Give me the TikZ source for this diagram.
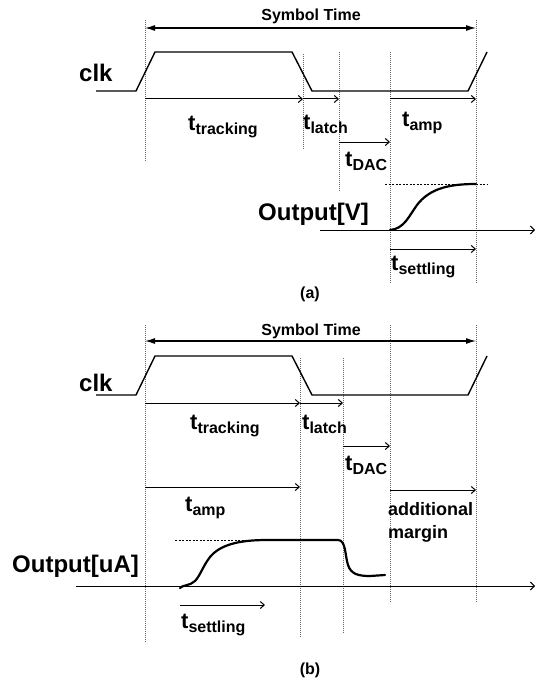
\documentclass[tikz,border=0pt]{standalone}
\usepackage{fontspec}
\setmainfont{Liberation Sans}
\usetikzlibrary{arrows.meta}
\newcommand{\mytsub}[1]{{\fontsize{22}{22}\selectfont t}{\fontsize{16}{16}\selectfont\raisebox{-4pt}{#1}}}
\tikzset{
  guide/.style={draw=black!60, line width=0.7pt, dash pattern=on 1pt off 1pt},
  clkline/.style={line width=1.4pt, line join=round},
  tarrow/.style={line width=1pt, -{Straight Barb[length=4pt,width=7pt]}},
  symarrow/.style={line width=1.1pt, {Latex[length=10pt,width=6pt]}-{Latex[length=10pt,width=6pt]}},
  outcurve/.style={line width=2.2pt, line cap=round},
  axis/.style={line width=1pt, -{Straight Barb[length=4pt,width=8pt]}},
  lbl/.style={inner sep=0pt, anchor=base west, font=\bfseries},
  big/.style={lbl, font=\bfseries\fontsize{24}{24}\selectfont},
  hlevel/.style={line width=0.8pt, dash pattern=on 2pt off 1.5pt},
}
\begin{document}
\begin{tikzpicture}[x=1pt,y=-1pt]
\useasboundingbox (0,0) rectangle (535,682);
% ================= panel (a) =================
\coordinate (a0) at (145,28); \coordinate (a5) at (476,28);
\draw[guide] (145,20) -- (145,162);
\draw[guide] (303,54) -- (303,149);
\draw[guide] (339,52) -- (339,192);
\draw[guide] (390,52) -- (390,283);
\draw[guide] (476,20) -- (476,283);
\node[lbl, anchor=base, font=\bfseries\fontsize{16}{16}\selectfont] (symA) at (311,21) {Symbol Time};
\draw[symarrow] (a0) -- (a5);
\node[big] (clkA) at (79,82) {clk};
\draw[clkline] (96,91) -- (136,91) -- (155,52) -- (292,52) -- (312,91) -- (468,91) -- (487,52);
\coordinate (aa1) at (145,99); \coordinate (aa2) at (303,99); \coordinate (aa3) at (339,99);
\coordinate (aa4) at (390,99); \coordinate (aa5) at (476,99);
\draw[tarrow] (aa1) -- (aa2);
\draw[tarrow] (aa2) -- (aa3);
\draw[tarrow] (aa4) -- (aa5);
\coordinate (ad1) at (339,142); \coordinate (ad2) at (390,142);
\draw[tarrow] (ad1) -- (ad2);
\node[lbl] (ttA) at (188,130) {\mytsub{tracking}};
\node[lbl] (tlA) at (303,129) {\mytsub{latch}};
\node[lbl] (taA) at (402,127) {\mytsub{amp}};
\node[lbl] (tdA) at (345,166) {\mytsub{DAC}};
\node[big] (outA) at (258,220) {Output[V]};
\coordinate (axA1) at (320,230); \coordinate (axA2) at (535,230);
\draw[axis] (axA1) -- (axA2);
\draw[hlevel] (385,184) -- (488,184);
\draw[outcurve] (390,230) .. controls (404,229) and (409,216) .. (417,205)
  .. controls (430,188) and (450,184) .. (476,184);
\coordinate (as1) at (390,249); \coordinate (as2) at (476,249);
\draw[tarrow] (as1) -- (as2);
\node[lbl] (tsA) at (391,270) {\mytsub{settling}};
\node[lbl, anchor=center, font=\bfseries\fontsize{16}{16}\selectfont] (capA) at (310,294) {(a)};
% ================= panel (b) =================
\coordinate (b0) at (145,341); \coordinate (b5) at (476,341);
\draw[guide] (145,325) -- (145,642);
\draw[guide] (300,358) -- (300,638);
\draw[guide] (343,358) -- (343,633);
\draw[guide] (390,325) -- (390,603);
\draw[guide] (476,325) -- (476,603);
\node[lbl, anchor=base, font=\bfseries\fontsize{16}{16}\selectfont] (symB) at (311,335) {Symbol Time};
\draw[symarrow] (b0) -- (b5);
\node[big] (clkB) at (79,391) {clk};
\draw[clkline] (96,395) -- (136,395) -- (155,356) -- (292,356) -- (312,395) -- (468,395) -- (487,356);
\coordinate (ba1) at (145,403); \coordinate (ba2) at (300,403); \coordinate (ba3) at (343,403);
\draw[tarrow] (ba1) -- (ba2);
\draw[tarrow] (ba2) -- (ba3);
\coordinate (bd1) at (343,446); \coordinate (bd2) at (390,446);
\draw[tarrow] (bd1) -- (bd2);
\node[lbl] (ttB) at (190,429) {\mytsub{tracking}};
\node[lbl] (tlB) at (302,429) {\mytsub{latch}};
\node[lbl] (tdB) at (345,470) {\mytsub{DAC}};
\coordinate (bm1) at (145,487); \coordinate (bm2) at (300,487);
\draw[tarrow] (bm1) -- (bm2);
\node[lbl] (taB) at (185,511) {\mytsub{amp}};
\coordinate (bg1) at (390,490); \coordinate (bg2) at (476,490);
\draw[tarrow] (bg1) -- (bg2);
\node[lbl, font=\bfseries\fontsize{18}{18}\selectfont] (addB) at (388,515) {additional};
\node[lbl, font=\bfseries\fontsize{18}{18}\selectfont] (marB) at (388,538) {margin};
\node[big] (outB) at (12,572) {Output[uA]};
\coordinate (axB1) at (76,586); \coordinate (axB2) at (535,586);
\draw[axis] (axB1) -- (axB2);
\draw[hlevel] (175,540) -- (267,540);
\draw[outcurve] (180,588) .. controls (182,585) and (190,586) .. (195,581)
  .. controls (200,576) and (203,566) .. (210,557)
  .. controls (220,545) and (238,540) .. (267,540) -- (338,540)
  .. controls (346,540) and (345,556) .. (348,565)
  .. controls (351,574) and (358,576) .. (370,576) -- (385,575);
\coordinate (bs1) at (180,605); \coordinate (bs2) at (265,605);
\draw[tarrow] (bs1) -- (bs2);
\node[lbl] (tsB) at (181,628) {\mytsub{settling}};
\node[lbl, anchor=center, font=\bfseries\fontsize{16}{16}\selectfont] (capB) at (310,670) {(b)};
\end{tikzpicture}
\end{document}
